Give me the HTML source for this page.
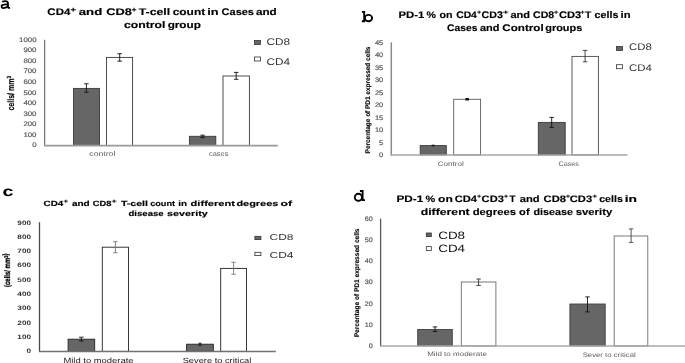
<!DOCTYPE html>
<html><head><meta charset="utf-8"><style>
html,body{margin:0;padding:0;background:#fff;width:685px;height:363px;overflow:hidden;}
svg{display:block;will-change:transform;font-family:"Liberation Sans", sans-serif}
</style></head><body>
<svg width="685" height="363" viewBox="0 0 685 363" font-family="Liberation Sans, sans-serif" text-rendering="geometricPrecision">
<rect width="685" height="363" fill="#fff"/>
<g fill="none" stroke="#000" stroke-width="1.75"><path d="M2.2 1.7C4 1.1 6.4 1.0 7.4 1.7C7.9 2.1 8 2.7 8 3.4V7.3C8 7.9 8.7 8.0 10.1 7.8"/><path d="M8 4.6C6.5 4.1 4.3 4.3 2.8 4.8C1.6 5.3 1.4 6.2 1.7 7.0C2.2 8.0 4 8.2 5.6 7.7C6.8 7.3 7.7 6.6 8 5.8"/></g>
<text x="36.5" y="147.3" font-size="6.6" font-weight="normal" fill="#5f5f5f" text-anchor="end" textLength="4.35" lengthAdjust="spacingAndGlyphs" stroke="#5f5f5f" stroke-width="0.22">0</text>
<text x="36.5" y="136.75" font-size="6.6" font-weight="normal" fill="#5f5f5f" text-anchor="end" textLength="13.049999999999999" lengthAdjust="spacingAndGlyphs" stroke="#5f5f5f" stroke-width="0.22">100</text>
<text x="36.5" y="126.2" font-size="6.6" font-weight="normal" fill="#5f5f5f" text-anchor="end" textLength="13.049999999999999" lengthAdjust="spacingAndGlyphs" stroke="#5f5f5f" stroke-width="0.22">200</text>
<text x="36.5" y="115.65" font-size="6.6" font-weight="normal" fill="#5f5f5f" text-anchor="end" textLength="13.049999999999999" lengthAdjust="spacingAndGlyphs" stroke="#5f5f5f" stroke-width="0.22">300</text>
<text x="36.5" y="105.1" font-size="6.6" font-weight="normal" fill="#5f5f5f" text-anchor="end" textLength="13.049999999999999" lengthAdjust="spacingAndGlyphs" stroke="#5f5f5f" stroke-width="0.22">400</text>
<text x="36.5" y="94.55" font-size="6.6" font-weight="normal" fill="#5f5f5f" text-anchor="end" textLength="13.049999999999999" lengthAdjust="spacingAndGlyphs" stroke="#5f5f5f" stroke-width="0.22">500</text>
<text x="36.5" y="84.0" font-size="6.6" font-weight="normal" fill="#5f5f5f" text-anchor="end" textLength="13.049999999999999" lengthAdjust="spacingAndGlyphs" stroke="#5f5f5f" stroke-width="0.22">600</text>
<text x="36.5" y="73.45" font-size="6.6" font-weight="normal" fill="#5f5f5f" text-anchor="end" textLength="13.049999999999999" lengthAdjust="spacingAndGlyphs" stroke="#5f5f5f" stroke-width="0.22">700</text>
<text x="36.5" y="62.9" font-size="6.6" font-weight="normal" fill="#5f5f5f" text-anchor="end" textLength="13.049999999999999" lengthAdjust="spacingAndGlyphs" stroke="#5f5f5f" stroke-width="0.22">800</text>
<text x="36.5" y="52.35" font-size="6.6" font-weight="normal" fill="#5f5f5f" text-anchor="end" textLength="13.049999999999999" lengthAdjust="spacingAndGlyphs" stroke="#5f5f5f" stroke-width="0.22">900</text>
<text x="36.5" y="41.8" font-size="6.6" font-weight="normal" fill="#5f5f5f" text-anchor="end" textLength="17.4" lengthAdjust="spacingAndGlyphs" stroke="#5f5f5f" stroke-width="0.22">1000</text>
<text transform="translate(13.7,110.6) rotate(-90)" x="0" y="0" font-size="9.2" font-weight="bold" fill="#000" textLength="34.8" lengthAdjust="spacingAndGlyphs" stroke="#000" stroke-width="0.15">cells/ mm<tspan dy="-3.2" font-size="6">3</tspan></text>
<rect x="73.5" y="88.4" width="26.0" height="57.1" fill="#666666" stroke="#3a3a3a" stroke-width="0.9"/>
<rect x="106.5" y="57.4" width="26.1" height="88.1" fill="#fff" stroke="#3a3a3a" stroke-width="0.9"/>
<rect x="189.4" y="136.3" width="26.4" height="9.2" fill="#666666" stroke="#3a3a3a" stroke-width="0.9"/>
<rect x="223" y="76" width="26.4" height="69.5" fill="#fff" stroke="#3a3a3a" stroke-width="0.9"/>
<line x1="44.6" y1="39.8" x2="44.6" y2="146.3" stroke="#7a7a7a" stroke-width="1.3"/>
<line x1="44.1" y1="145.6" x2="277.8" y2="145.6" stroke="#9a9a9a" stroke-width="1.6"/>
<path d="M86.4 83.8V92.2M84.15 83.8H88.65M84.15 92.2H88.65" stroke="#111" stroke-width="0.9" fill="none"/>
<path d="M119.7 53.7V61.2M117.45 53.7H121.95M117.45 61.2H121.95" stroke="#111" stroke-width="0.9" fill="none"/>
<path d="M202.6 135.2V137.6M200.35 135.2H204.85M200.35 137.6H204.85" stroke="#111" stroke-width="0.9" fill="none"/>
<path d="M236.2 72.4V79.3M233.95 72.4H238.45M233.95 79.3H238.45" stroke="#111" stroke-width="0.9" fill="none"/>
<text x="89.3" y="156.4" font-size="6.8" font-weight="normal" fill="#5f5f5f" text-anchor="start" textLength="26.1" lengthAdjust="spacingAndGlyphs">control</text>
<text x="209.0" y="156.4" font-size="6.8" font-weight="normal" fill="#5f5f5f" text-anchor="start" textLength="19.4" lengthAdjust="spacingAndGlyphs">cases</text>
<rect x="254.5" y="40.5" width="6.0" height="4.0" fill="#666666" stroke="#333" stroke-width="0.8"/>
<rect x="254.5" y="57" width="6.0" height="4" fill="#fff" stroke="#333" stroke-width="0.8"/>
<text x="266.5" y="44.8" font-size="9.7" font-weight="normal" fill="#333333" text-anchor="start" textLength="23.6" lengthAdjust="spacingAndGlyphs">CD8</text>
<text x="266.5" y="64.9" font-size="9.7" font-weight="normal" fill="#333333" text-anchor="start" textLength="23.6" lengthAdjust="spacingAndGlyphs">CD4</text>
<g fill="none" stroke="#000" stroke-width="1.9"><path d="M361.9 11.9H364.2V22.2M361.9 21.3H364.2"/><ellipse cx="368.5" cy="18.1" rx="3.6" ry="3.2"/></g>
<text x="383.3" y="157.1" font-size="6.6" font-weight="normal" fill="#5f5f5f" text-anchor="end" textLength="4.2" lengthAdjust="spacingAndGlyphs" stroke="#5f5f5f" stroke-width="0.22">0</text>
<text x="383.3" y="144.63" font-size="6.6" font-weight="normal" fill="#5f5f5f" text-anchor="end" textLength="4.2" lengthAdjust="spacingAndGlyphs" stroke="#5f5f5f" stroke-width="0.22">5</text>
<text x="383.3" y="132.16" font-size="6.6" font-weight="normal" fill="#5f5f5f" text-anchor="end" textLength="8.4" lengthAdjust="spacingAndGlyphs" stroke="#5f5f5f" stroke-width="0.22">10</text>
<text x="383.3" y="119.69" font-size="6.6" font-weight="normal" fill="#5f5f5f" text-anchor="end" textLength="8.4" lengthAdjust="spacingAndGlyphs" stroke="#5f5f5f" stroke-width="0.22">15</text>
<text x="383.3" y="107.22" font-size="6.6" font-weight="normal" fill="#5f5f5f" text-anchor="end" textLength="8.4" lengthAdjust="spacingAndGlyphs" stroke="#5f5f5f" stroke-width="0.22">20</text>
<text x="383.3" y="94.75" font-size="6.6" font-weight="normal" fill="#5f5f5f" text-anchor="end" textLength="8.4" lengthAdjust="spacingAndGlyphs" stroke="#5f5f5f" stroke-width="0.22">25</text>
<text x="383.3" y="82.28" font-size="6.6" font-weight="normal" fill="#5f5f5f" text-anchor="end" textLength="8.4" lengthAdjust="spacingAndGlyphs" stroke="#5f5f5f" stroke-width="0.22">30</text>
<text x="383.3" y="69.81" font-size="6.6" font-weight="normal" fill="#5f5f5f" text-anchor="end" textLength="8.4" lengthAdjust="spacingAndGlyphs" stroke="#5f5f5f" stroke-width="0.22">35</text>
<text x="383.3" y="57.34" font-size="6.6" font-weight="normal" fill="#5f5f5f" text-anchor="end" textLength="8.4" lengthAdjust="spacingAndGlyphs" stroke="#5f5f5f" stroke-width="0.22">40</text>
<text x="383.3" y="44.87" font-size="6.6" font-weight="normal" fill="#5f5f5f" text-anchor="end" textLength="8.4" lengthAdjust="spacingAndGlyphs" stroke="#5f5f5f" stroke-width="0.22">45</text>
<text transform="translate(370.3,153.4) rotate(-90)" x="0" y="0" font-size="6.8" font-weight="bold" fill="#000" textLength="106.8" lengthAdjust="spacingAndGlyphs" stroke="#000" stroke-width="0.12">Percentage of PD1 expressed cells</text>
<rect x="420.2" y="145.6" width="26.1" height="9.3" fill="#666666" stroke="#3a3a3a" stroke-width="0.9"/>
<rect x="453.7" y="99.3" width="26.9" height="55.6" fill="#fff" stroke="#5a5a5a" stroke-width="0.9"/>
<rect x="538.3" y="122.4" width="26.9" height="32.5" fill="#666666" stroke="#3a3a3a" stroke-width="0.9"/>
<rect x="572" y="56.4" width="26.4" height="98.5" fill="#fff" stroke="#4a4a4a" stroke-width="0.9"/>
<line x1="391.3" y1="42.4" x2="391.3" y2="155.6" stroke="#8a8a8a" stroke-width="1.5"/>
<line x1="390.7" y1="155.0" x2="627.5" y2="155.0" stroke="#a6a6a6" stroke-width="1.7"/>
<path d="M433.2 145.2V145.9M431.7 145.2H434.7M431.7 145.9H434.7" stroke="#111" stroke-width="0.9" fill="none"/>
<path d="M467.2 98.7V99.9M465.45 98.7H468.95M465.45 99.9H468.95" stroke="#111" stroke-width="1.2" fill="none"/>
<path d="M551.7 117.4V127.4M549.45 117.4H553.95M549.45 127.4H553.95" stroke="#111" stroke-width="0.9" fill="none"/>
<path d="M585.1 50.4V61.8M582.85 50.4H587.35M582.85 61.8H587.35" stroke="#333" stroke-width="0.9" fill="none"/>
<text x="437.8" y="165.5" font-size="6.6" font-weight="normal" fill="#5f5f5f" text-anchor="start" textLength="26" lengthAdjust="spacingAndGlyphs">Control</text>
<text x="558.5" y="165.5" font-size="6.6" font-weight="normal" fill="#5f5f5f" text-anchor="start" textLength="20.5" lengthAdjust="spacingAndGlyphs">Cases</text>
<rect x="616.5" y="46.5" width="6.0" height="4.0" fill="#666666" stroke="#333" stroke-width="0.8"/>
<rect x="616.5" y="64.7" width="6.0" height="4.0" fill="#fff" stroke="#333" stroke-width="0.8"/>
<text x="629.1" y="50.2" font-size="9.6" font-weight="normal" fill="#333333" text-anchor="start" textLength="22.8" lengthAdjust="spacingAndGlyphs">CD8</text>
<text x="629.1" y="70.6" font-size="9.6" font-weight="normal" fill="#333333" text-anchor="start" textLength="22.8" lengthAdjust="spacingAndGlyphs">CD4</text>
<text transform="translate(2.5,195.9) scale(1.42,1)" font-size="13.8" font-weight="bold">c</text>
<text x="31.0" y="353.4" font-size="6.3" font-weight="bold" fill="#333" text-anchor="end" textLength="4.55" lengthAdjust="spacingAndGlyphs">0</text>
<text x="31.0" y="339.08" font-size="6.3" font-weight="bold" fill="#333" text-anchor="end" textLength="13.649999999999999" lengthAdjust="spacingAndGlyphs">100</text>
<text x="31.0" y="324.76" font-size="6.3" font-weight="bold" fill="#333" text-anchor="end" textLength="13.649999999999999" lengthAdjust="spacingAndGlyphs">200</text>
<text x="31.0" y="310.44" font-size="6.3" font-weight="bold" fill="#333" text-anchor="end" textLength="13.649999999999999" lengthAdjust="spacingAndGlyphs">300</text>
<text x="31.0" y="296.12" font-size="6.3" font-weight="bold" fill="#333" text-anchor="end" textLength="13.649999999999999" lengthAdjust="spacingAndGlyphs">400</text>
<text x="31.0" y="281.8" font-size="6.3" font-weight="bold" fill="#333" text-anchor="end" textLength="13.649999999999999" lengthAdjust="spacingAndGlyphs">500</text>
<text x="31.0" y="267.48" font-size="6.3" font-weight="bold" fill="#333" text-anchor="end" textLength="13.649999999999999" lengthAdjust="spacingAndGlyphs">600</text>
<text x="31.0" y="253.16" font-size="6.3" font-weight="bold" fill="#333" text-anchor="end" textLength="13.649999999999999" lengthAdjust="spacingAndGlyphs">700</text>
<text x="31.0" y="238.84" font-size="6.3" font-weight="bold" fill="#333" text-anchor="end" textLength="13.649999999999999" lengthAdjust="spacingAndGlyphs">800</text>
<text x="31.0" y="224.52" font-size="6.3" font-weight="bold" fill="#333" text-anchor="end" textLength="13.649999999999999" lengthAdjust="spacingAndGlyphs">900</text>
<text transform="translate(10.4,287) rotate(-90)" x="0" y="0" font-size="8.0" font-weight="bold" fill="#000" textLength="33.5" lengthAdjust="spacingAndGlyphs" stroke="#000" stroke-width="0.3">(cells/ mm<tspan dy="-2.8" font-size="5.5">3</tspan>)</text>
<rect x="68.1" y="339.2" width="26.6" height="12.2" fill="#666666" stroke="#222" stroke-width="0.9"/>
<rect x="102.3" y="247.2" width="26.2" height="104.2" fill="#fff" stroke="#222" stroke-width="0.9"/>
<rect x="186.6" y="344.2" width="26.7" height="7.2" fill="#666666" stroke="#222" stroke-width="0.9"/>
<rect x="220.7" y="268.4" width="25.8" height="83.0" fill="#fff" stroke="#222" stroke-width="0.9"/>
<line x1="39.5" y1="222.2" x2="39.5" y2="352.0" stroke="#4a4a4a" stroke-width="1.3"/>
<line x1="39.0" y1="351.5" x2="275.8" y2="351.5" stroke="#707070" stroke-width="1.4"/>
<path d="M81.3 337.2V341.0M79.05 337.2H83.55M79.05 341.0H83.55" stroke="#111" stroke-width="0.9" fill="none"/>
<path d="M115.4 241.7V252.7M113.15 241.7H117.65M113.15 252.7H117.65" stroke="#777" stroke-width="0.9" fill="none"/>
<path d="M200.0 343.2V345.3M198.5 343.2H201.5M198.5 345.3H201.5" stroke="#111" stroke-width="0.9" fill="none"/>
<path d="M233.6 262.3V274.2M231.35 262.3H235.85M231.35 274.2H235.85" stroke="#777" stroke-width="0.9" fill="none"/>
<text x="63.4" y="363.3" font-size="7.6" font-weight="normal" fill="#222" text-anchor="start" textLength="70.2" lengthAdjust="spacingAndGlyphs">Mild to moderate</text>
<text x="182.7" y="363.3" font-size="7.6" font-weight="normal" fill="#222" text-anchor="start" textLength="68.6" lengthAdjust="spacingAndGlyphs">Severe to critical</text>
<rect x="254.9" y="236.3" width="6.0" height="3.3" fill="#666666" stroke="#333" stroke-width="0.8"/>
<rect x="254.9" y="252.3" width="6.0" height="3.3" fill="#fff" stroke="#333" stroke-width="0.8"/>
<text x="269.6" y="239.9" font-size="8.6" font-weight="normal" fill="#333333" text-anchor="start" textLength="23.9" lengthAdjust="spacingAndGlyphs">CD8</text>
<text x="269.6" y="257.5" font-size="8.6" font-weight="normal" fill="#333333" text-anchor="start" textLength="23.9" lengthAdjust="spacingAndGlyphs">CD4</text>
<g fill="none" stroke="#000" stroke-width="1.9"><path d="M359.9 191H362.6V200.1H365"/><ellipse cx="358.4" cy="197.3" rx="3.6" ry="3.5"/></g>
<text x="372.7" y="347.9" font-size="6.5" font-weight="normal" fill="#5f5f5f" text-anchor="end" textLength="4.0" lengthAdjust="spacingAndGlyphs" stroke="#5f5f5f" stroke-width="0.22">0</text>
<text x="372.7" y="326.72" font-size="6.5" font-weight="normal" fill="#5f5f5f" text-anchor="end" textLength="8.0" lengthAdjust="spacingAndGlyphs" stroke="#5f5f5f" stroke-width="0.22">10</text>
<text x="372.7" y="305.54" font-size="6.5" font-weight="normal" fill="#5f5f5f" text-anchor="end" textLength="8.0" lengthAdjust="spacingAndGlyphs" stroke="#5f5f5f" stroke-width="0.22">20</text>
<text x="372.7" y="284.36" font-size="6.5" font-weight="normal" fill="#5f5f5f" text-anchor="end" textLength="8.0" lengthAdjust="spacingAndGlyphs" stroke="#5f5f5f" stroke-width="0.22">30</text>
<text x="372.7" y="263.18" font-size="6.5" font-weight="normal" fill="#5f5f5f" text-anchor="end" textLength="8.0" lengthAdjust="spacingAndGlyphs" stroke="#5f5f5f" stroke-width="0.22">40</text>
<text x="372.7" y="242.0" font-size="6.5" font-weight="normal" fill="#5f5f5f" text-anchor="end" textLength="8.0" lengthAdjust="spacingAndGlyphs" stroke="#5f5f5f" stroke-width="0.22">50</text>
<text x="372.7" y="220.82" font-size="6.5" font-weight="normal" fill="#5f5f5f" text-anchor="end" textLength="8.0" lengthAdjust="spacingAndGlyphs" stroke="#5f5f5f" stroke-width="0.22">60</text>
<text transform="translate(358.6,337.3) rotate(-90)" x="0" y="0" font-size="6.8" font-weight="bold" fill="#000" textLength="108.8" lengthAdjust="spacingAndGlyphs" stroke="#000" stroke-width="0.12">Percentage of PD1 expressed cells</text>
<rect x="417.7" y="329.5" width="34.6" height="16.4" fill="#666666" stroke="#404040" stroke-width="0.9"/>
<rect x="461.3" y="282" width="34.6" height="63.9" fill="#fff" stroke="#6a6a6a" stroke-width="0.9"/>
<rect x="569.9" y="304" width="35.3" height="41.9" fill="#666666" stroke="#404040" stroke-width="0.9"/>
<rect x="614.2" y="236.0" width="33.6" height="109.9" fill="#fff" stroke="#6a6a6a" stroke-width="0.9"/>
<line x1="380.6" y1="218.6" x2="380.6" y2="346.6" stroke="#5a5a5a" stroke-width="1.3"/>
<line x1="380.1" y1="346.0" x2="685" y2="346.0" stroke="#a8a8a8" stroke-width="1.7"/>
<path d="M435 326.9V331.5M432.75 326.9H437.25M432.75 331.5H437.25" stroke="#111" stroke-width="0.9" fill="none"/>
<path d="M478.6 279V285.4M476.35 279H480.85M476.35 285.4H480.85" stroke="#333" stroke-width="0.9" fill="none"/>
<path d="M587.5 296.9V311.9M585.25 296.9H589.75M585.25 311.9H589.75" stroke="#111" stroke-width="0.9" fill="none"/>
<path d="M631.1 228.9V242.4M628.85 228.9H633.35M628.85 242.4H633.35" stroke="#444" stroke-width="0.9" fill="none"/>
<text x="427.2" y="356.3" font-size="6.4" font-weight="normal" fill="#5f5f5f" text-anchor="start" textLength="59.7" lengthAdjust="spacingAndGlyphs">Mild to moderate</text>
<text x="582.7" y="357.0" font-size="6.4" font-weight="normal" fill="#5f5f5f" text-anchor="start" textLength="53.0" lengthAdjust="spacingAndGlyphs">Sever to critical</text>
<rect x="426.3" y="233" width="5.0" height="3.6" fill="#666666" stroke="#333" stroke-width="0.8"/>
<rect x="426.3" y="246.6" width="5.0" height="3.9" fill="#fff" stroke="#333" stroke-width="0.8"/>
<text x="438.2" y="239" font-size="10.7" font-weight="normal" fill="#111" text-anchor="start" textLength="26.9" lengthAdjust="spacingAndGlyphs">CD8</text>
<text x="438.2" y="252.1" font-size="10.7" font-weight="normal" fill="#111" text-anchor="start" textLength="26.9" lengthAdjust="spacingAndGlyphs">CD4</text>
<text x="47.38" y="15" font-size="9.5" font-weight="bold" stroke="#000" stroke-width="0.15" textLength="22.96" lengthAdjust="spacingAndGlyphs">CD4</text>
<text x="70.44" y="11.8" font-size="7" font-weight="bold" stroke="#000" stroke-width="0.15" textLength="5.61" lengthAdjust="spacingAndGlyphs">+</text>
<text x="78.75" y="15" font-size="9.5" font-weight="bold" stroke="#000" stroke-width="0.15" textLength="23.49" lengthAdjust="spacingAndGlyphs">and</text>
<text x="106.22" y="15" font-size="9.5" font-weight="bold" stroke="#000" stroke-width="0.15" textLength="25.64" lengthAdjust="spacingAndGlyphs">CD8</text>
<text x="131.76" y="11.8" font-size="7" font-weight="bold" stroke="#000" stroke-width="0.15" textLength="4.69" lengthAdjust="spacingAndGlyphs">+</text>
<text x="138.76" y="15" font-size="9.5" font-weight="bold" stroke="#000" stroke-width="0.15" textLength="31.41" lengthAdjust="spacingAndGlyphs">T-cell</text>
<text x="172.66" y="15" font-size="9.5" font-weight="bold" stroke="#000" stroke-width="0.15" textLength="32.49" lengthAdjust="spacingAndGlyphs">count</text>
<text x="207.31" y="15" font-size="9.5" font-weight="bold" stroke="#000" stroke-width="0.15" textLength="11.36" lengthAdjust="spacingAndGlyphs">in</text>
<text x="221.59" y="15" font-size="9.5" font-weight="bold" stroke="#000" stroke-width="0.15" textLength="32.42" lengthAdjust="spacingAndGlyphs">Cases</text>
<text x="255.96" y="15" font-size="9.5" font-weight="bold" stroke="#000" stroke-width="0.15" textLength="20.80" lengthAdjust="spacingAndGlyphs">and</text>
<text x="123.95" y="28.2" font-size="9.5" font-weight="bold" stroke="#000" stroke-width="0.15" textLength="41.38" lengthAdjust="spacingAndGlyphs">control</text>
<text x="167.66" y="28.2" font-size="9.5" font-weight="bold" stroke="#000" stroke-width="0.15" textLength="33.20" lengthAdjust="spacingAndGlyphs">group</text>
<text x="398.54" y="18" font-size="9.5" font-weight="bold" stroke="#000" stroke-width="0.15" textLength="25.83" lengthAdjust="spacingAndGlyphs">PD-1</text>
<text x="426.64" y="18" font-size="9.5" font-weight="bold" stroke="#000" stroke-width="0.15" textLength="9.46" lengthAdjust="spacingAndGlyphs">%</text>
<text x="439.58" y="18" font-size="9.5" font-weight="bold" stroke="#000" stroke-width="0.15" textLength="13.03" lengthAdjust="spacingAndGlyphs">on</text>
<text x="456.20" y="18" font-size="9.5" font-weight="bold" stroke="#000" stroke-width="0.15" textLength="20.70" lengthAdjust="spacingAndGlyphs">CD4</text>
<text x="477.07" y="14.1" font-size="5.5" font-weight="bold" stroke="#000" stroke-width="0.15" textLength="4.37" lengthAdjust="spacingAndGlyphs">+</text>
<text x="481.53" y="18" font-size="9.5" font-weight="bold" stroke="#000" stroke-width="0.15" textLength="21.30" lengthAdjust="spacingAndGlyphs">CD3</text>
<text x="502.75" y="14.1" font-size="5.5" font-weight="bold" stroke="#000" stroke-width="0.15" textLength="5.84" lengthAdjust="spacingAndGlyphs">+</text>
<text x="510.42" y="18" font-size="9.5" font-weight="bold" stroke="#000" stroke-width="0.15" textLength="19.64" lengthAdjust="spacingAndGlyphs">and</text>
<text x="533.13" y="18" font-size="9.5" font-weight="bold" stroke="#000" stroke-width="0.15" textLength="21.12" lengthAdjust="spacingAndGlyphs">CD8</text>
<text x="553.81" y="14.1" font-size="5.5" font-weight="bold" stroke="#000" stroke-width="0.15" textLength="4.73" lengthAdjust="spacingAndGlyphs">+</text>
<text x="559.03" y="18" font-size="9.5" font-weight="bold" stroke="#000" stroke-width="0.15" textLength="22.22" lengthAdjust="spacingAndGlyphs">CD3</text>
<text x="580.64" y="14.1" font-size="5.5" font-weight="bold" stroke="#000" stroke-width="0.15" textLength="4.12" lengthAdjust="spacingAndGlyphs">+</text>
<text x="585.04" y="18" font-size="9.5" font-weight="bold" stroke="#000" stroke-width="0.15" textLength="6.31" lengthAdjust="spacingAndGlyphs">T</text>
<text x="594.47" y="18" font-size="9.5" font-weight="bold" stroke="#000" stroke-width="0.15" textLength="23.92" lengthAdjust="spacingAndGlyphs">cells</text>
<text x="620.64" y="18" font-size="9.5" font-weight="bold" stroke="#000" stroke-width="0.15" textLength="10.02" lengthAdjust="spacingAndGlyphs">in</text>
<text x="447.02" y="31.2" font-size="9.5" font-weight="bold" stroke="#000" stroke-width="0.15" textLength="30.41" lengthAdjust="spacingAndGlyphs">Cases</text>
<text x="479.95" y="31.2" font-size="9.5" font-weight="bold" stroke="#000" stroke-width="0.15" textLength="19.50" lengthAdjust="spacingAndGlyphs">and</text>
<text x="502.37" y="31.2" font-size="9.5" font-weight="bold" stroke="#000" stroke-width="0.15" textLength="41.31" lengthAdjust="spacingAndGlyphs">Control</text>
<text x="545.21" y="31.2" font-size="9.5" font-weight="bold" stroke="#000" stroke-width="0.15" textLength="37.06" lengthAdjust="spacingAndGlyphs">groups</text>
<text x="43.59" y="206.2" font-size="7.6" font-weight="bold" stroke="#000" stroke-width="0.15" textLength="19.67" lengthAdjust="spacingAndGlyphs">CD4</text>
<text x="63.41" y="203.1" font-size="5.5" font-weight="bold" stroke="#000" stroke-width="0.15" textLength="4.55" lengthAdjust="spacingAndGlyphs">+</text>
<text x="71.95" y="206.2" font-size="7.6" font-weight="bold" stroke="#000" stroke-width="0.15" textLength="17.80" lengthAdjust="spacingAndGlyphs">and</text>
<text x="92.84" y="206.2" font-size="7.6" font-weight="bold" stroke="#000" stroke-width="0.15" textLength="18.71" lengthAdjust="spacingAndGlyphs">CD8</text>
<text x="111.43" y="203.1" font-size="5.5" font-weight="bold" stroke="#000" stroke-width="0.15" textLength="5.25" lengthAdjust="spacingAndGlyphs">+</text>
<text x="120.96" y="206.2" font-size="7.6" font-weight="bold" stroke="#000" stroke-width="0.15" textLength="26.87" lengthAdjust="spacingAndGlyphs">T-cell</text>
<text x="150.20" y="206.2" font-size="7.6" font-weight="bold" stroke="#000" stroke-width="0.15" textLength="24.87" lengthAdjust="spacingAndGlyphs">count</text>
<text x="178.26" y="206.2" font-size="7.6" font-weight="bold" stroke="#000" stroke-width="0.15" textLength="8.80" lengthAdjust="spacingAndGlyphs">in</text>
<text x="190.64" y="206.2" font-size="7.6" font-weight="bold" stroke="#000" stroke-width="0.15" textLength="44.23" lengthAdjust="spacingAndGlyphs">different</text>
<text x="236.42" y="206.2" font-size="7.6" font-weight="bold" stroke="#000" stroke-width="0.15" textLength="41.94" lengthAdjust="spacingAndGlyphs">degrees</text>
<text x="280.51" y="206.2" font-size="7.6" font-weight="bold" stroke="#000" stroke-width="0.15" textLength="11.61" lengthAdjust="spacingAndGlyphs">of</text>
<text x="128.53" y="216.2" font-size="7.6" font-weight="bold" stroke="#000" stroke-width="0.15" textLength="35.18" lengthAdjust="spacingAndGlyphs">disease</text>
<text x="167.13" y="216.2" font-size="7.6" font-weight="bold" stroke="#000" stroke-width="0.15" textLength="40.70" lengthAdjust="spacingAndGlyphs">severity</text>
<text x="396.41" y="202" font-size="9.4" font-weight="bold" stroke="#000" stroke-width="0.15" textLength="26.77" lengthAdjust="spacingAndGlyphs">PD-1</text>
<text x="425.53" y="202" font-size="9.4" font-weight="bold" stroke="#000" stroke-width="0.15" textLength="9.71" lengthAdjust="spacingAndGlyphs">%</text>
<text x="438.09" y="202" font-size="9.4" font-weight="bold" stroke="#000" stroke-width="0.15" textLength="14.76" lengthAdjust="spacingAndGlyphs">on</text>
<text x="454.79" y="202" font-size="9.4" font-weight="bold" stroke="#000" stroke-width="0.15" textLength="22.28" lengthAdjust="spacingAndGlyphs">CD4</text>
<text x="477.07" y="198.1" font-size="5.5" font-weight="bold" stroke="#000" stroke-width="0.15" textLength="4.37" lengthAdjust="spacingAndGlyphs">+</text>
<text x="481.64" y="202" font-size="9.4" font-weight="bold" stroke="#000" stroke-width="0.15" textLength="22.34" lengthAdjust="spacingAndGlyphs">CD3</text>
<text x="503.84" y="198.1" font-size="5.5" font-weight="bold" stroke="#000" stroke-width="0.15" textLength="4.64" lengthAdjust="spacingAndGlyphs">+</text>
<text x="509.45" y="202" font-size="9.4" font-weight="bold" stroke="#000" stroke-width="0.15" textLength="6.03" lengthAdjust="spacingAndGlyphs">T</text>
<text x="519.68" y="202" font-size="9.4" font-weight="bold" stroke="#000" stroke-width="0.15" textLength="19.84" lengthAdjust="spacingAndGlyphs">and</text>
<text x="543.59" y="202" font-size="9.4" font-weight="bold" stroke="#000" stroke-width="0.15" textLength="22.44" lengthAdjust="spacingAndGlyphs">CD8</text>
<text x="565.89" y="198.1" font-size="5.5" font-weight="bold" stroke="#000" stroke-width="0.15" textLength="4.47" lengthAdjust="spacingAndGlyphs">+</text>
<text x="569.75" y="202" font-size="9.4" font-weight="bold" stroke="#000" stroke-width="0.15" textLength="22.41" lengthAdjust="spacingAndGlyphs">CD3</text>
<text x="592.15" y="198.1" font-size="5.5" font-weight="bold" stroke="#000" stroke-width="0.15" textLength="4.95" lengthAdjust="spacingAndGlyphs">+</text>
<text x="599.22" y="202" font-size="9.4" font-weight="bold" stroke="#000" stroke-width="0.15" textLength="23.57" lengthAdjust="spacingAndGlyphs">cells</text>
<text x="624.71" y="202" font-size="9.4" font-weight="bold" stroke="#000" stroke-width="0.15" textLength="12.31" lengthAdjust="spacingAndGlyphs">in</text>
<text x="420.75" y="214.6" font-size="9.4" font-weight="bold" stroke="#000" stroke-width="0.15" textLength="48.94" lengthAdjust="spacingAndGlyphs">different</text>
<text x="472.71" y="214.6" font-size="9.4" font-weight="bold" stroke="#000" stroke-width="0.15" textLength="43.27" lengthAdjust="spacingAndGlyphs">degrees</text>
<text x="519.14" y="214.6" font-size="9.4" font-weight="bold" stroke="#000" stroke-width="0.15" textLength="10.45" lengthAdjust="spacingAndGlyphs">of</text>
<text x="533.48" y="214.6" font-size="9.4" font-weight="bold" stroke="#000" stroke-width="0.15" textLength="39.48" lengthAdjust="spacingAndGlyphs">disease</text>
<text x="575.66" y="214.6" font-size="9.4" font-weight="bold" stroke="#000" stroke-width="0.15" textLength="36.59" lengthAdjust="spacingAndGlyphs">sverity</text>
</svg>
</body></html>
